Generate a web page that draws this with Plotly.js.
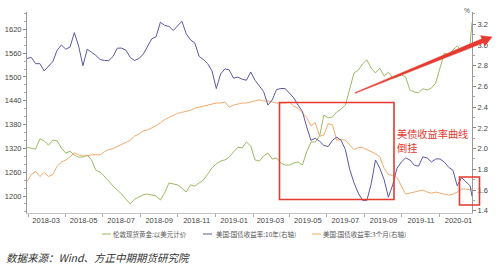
<!DOCTYPE html>
<html>
<head>
<meta charset="utf-8">
<script src="https://cdn.plot.ly/plotly-3.0.1.min.js"></script>
<style>
  html, body { margin: 0; padding: 0; background: #fff; }
  #chart { width: 500px; height: 266px; }
</style>
</head>
<body>
<div id="chart"></div>
<script>
// ---- data (weekly samples) ----
const dates = [
  '2018-01-29','2018-02-05','2018-02-12','2018-02-19','2018-02-26','2018-03-05','2018-03-12','2018-03-19','2018-03-26','2018-04-02',
  '2018-04-09','2018-04-16','2018-04-23','2018-04-30','2018-05-07','2018-05-14','2018-05-21','2018-05-28','2018-06-04','2018-06-11',
  '2018-06-18','2018-06-25','2018-07-02','2018-07-09','2018-07-16','2018-07-23','2018-07-30','2018-08-06','2018-08-13','2018-08-20',
  '2018-08-27','2018-09-03','2018-09-10','2018-09-17','2018-09-24','2018-10-01','2018-10-08','2018-10-15','2018-10-22','2018-10-29',
  '2018-11-05','2018-11-12','2018-11-19','2018-11-26','2018-12-03','2018-12-10','2018-12-17','2018-12-24','2018-12-31','2019-01-07',
  '2019-01-14','2019-01-21','2019-01-28','2019-02-04','2019-02-11','2019-02-18','2019-02-25','2019-03-04','2019-03-11','2019-03-18',
  '2019-03-25','2019-04-01','2019-04-08','2019-04-15','2019-04-22','2019-04-29','2019-05-06','2019-05-13','2019-05-20','2019-05-27',
  '2019-06-03','2019-06-10','2019-06-17','2019-06-24','2019-07-01','2019-07-08','2019-07-15','2019-07-22','2019-07-29','2019-08-05',
  '2019-08-12','2019-08-19','2019-08-26','2019-09-02','2019-09-09','2019-09-16','2019-09-23','2019-09-30','2019-10-07','2019-10-14',
  '2019-10-21','2019-10-28','2019-11-04','2019-11-11','2019-11-18','2019-11-25','2019-12-02','2019-12-09','2019-12-16','2019-12-23',
  '2019-12-30','2020-01-06','2020-01-13','2020-01-20','2020-01-23'
];

// 伦敦现货黄金:以美元计价 (left axis)
const gold = [
  1323,1321,1318,1344,1339,1328,1341,1339,1321,1308,
  1313,1303,1298,1298,1303,1291,1265,1260,1250,1238,
  1225,1215,1205,1192,1180,1192,1197,1203,1205,1203,
  1200,1190,1208,1233,1230,1228,1220,1210,1228,1225,
  1233,1240,1255,1271,1281,1288,1291,1298,1311,1323,
  1321,1336,1326,1291,1288,1301,1308,1293,1296,1283,
  1278,1278,1283,1286,1278,1311,1336,1336,1351,1404,
  1397,1399,1412,1419,1429,1467,1510,1517,1533,1543,
  1522,1510,1522,1502,1512,1497,1500,1505,1500,1467,
  1462,1460,1470,1467,1472,1485,1522,1560,1555,1568,
  1578,1565,1570,1585,1638
];

// 美国:国债收益率:10年 (right axis, %)
const ust10y = [
  2.87,2.88,2.82,2.82,2.75,2.79,2.84,2.95,3.00,2.96,
  2.98,3.12,2.99,2.80,2.96,2.93,2.90,2.86,2.85,2.85,
  2.89,2.97,2.97,2.95,2.88,2.85,2.87,2.91,2.99,3.06,
  3.08,3.22,3.19,3.18,3.14,3.19,3.23,3.11,3.05,3.02,
  2.89,2.86,2.82,2.75,2.58,2.72,2.77,2.76,2.68,2.69,
  2.67,2.66,2.74,2.66,2.61,2.55,2.42,2.47,2.57,2.58,
  2.58,2.53,2.49,2.42,2.36,2.21,2.08,2.10,2.07,2.03,
  2.02,2.08,2.11,2.08,1.99,1.80,1.67,1.57,1.50,1.50,
  1.66,1.89,1.81,1.70,1.53,1.65,1.81,1.87,1.91,1.89,
  1.84,1.83,1.92,1.91,1.87,1.90,1.90,1.87,1.82,1.79,
  1.64,1.72,1.68,1.64,1.54
];

// 美国:国债收益率:3个月 (right axis, %)
const ust3m = [
  1.68,1.75,1.78,1.73,1.77,1.73,1.75,1.83,1.87,1.89,
  1.92,1.96,1.94,1.93,1.93,1.94,1.94,1.94,1.97,1.99,
  2.00,2.02,2.04,2.06,2.08,2.12,2.14,2.17,2.18,2.20,
  2.22,2.25,2.28,2.30,2.32,2.34,2.35,2.36,2.37,2.39,
  2.40,2.41,2.42,2.43,2.44,2.44,2.45,2.40,2.42,2.43,
  2.44,2.44,2.45,2.46,2.47,2.46,2.46,2.45,2.44,2.44,
  2.44,2.45,2.41,2.39,2.35,2.30,2.22,2.25,2.12,2.13,
  2.24,2.23,2.08,2.09,2.08,2.03,1.99,2.01,2.01,1.99,
  1.97,1.95,1.92,1.81,1.75,1.74,1.72,1.64,1.56,1.57,
  1.58,1.59,1.60,1.58,1.57,1.58,1.57,1.56,1.55,1.56,
  1.58,1.61,1.61,1.60,1.61
];

const seriesNames = ['伦敦现货黄金:以美元计价', '美国:国债收益率:10年(右轴)', '美国:国债收益率:3个月(右轴)'];
const leftTicks = [1200, 1260, 1320, 1380, 1440, 1500, 1560, 1620];
const rightTicks = [1.4, 1.6, 1.8, 2.0, 2.2, 2.4, 2.6, 2.8, 3.0, 3.2];
const noteLines = ['美债收益率曲线', '倒挂'];
const sourceText = '数据来源：Wind、方正中期期货研究院';

// ---- styles ----
const colors = ['#9dbb61', '#5d57a3', '#f3aa6c'];
const red = '#e6392f';
const tickFont = { family: 'Liberation Sans, Arial, sans-serif', size: 7.5, color: '#444' };
const cjk = 'Noto Sans CJK SC, sans-serif';

const traces = [
  { x: dates, y: gold, yaxis: 'y', name: seriesNames[0], type: 'scatter', mode: 'lines',
    line: { color: colors[0], width: 1 } },
  { x: dates, y: ust3m, yaxis: 'y2', name: seriesNames[2], type: 'scatter', mode: 'lines',
    line: { color: colors[2], width: 1 } },
  { x: dates, y: ust10y, yaxis: 'y2', name: seriesNames[1], type: 'scatter', mode: 'lines',
    line: { color: colors[1], width: 1 } }
];

// plot area in px: x 27..472, y 12..213
const PX = v => (v - 27) / 445;
const PY = v => (213 - v) / 201;

// legend built by hand (compact like the original)
const legendItems = [
  { sx: 102, tx: 112, c: colors[0], t: seriesNames[0] },
  { sx: 203, tx: 215, c: colors[1], t: seriesNames[1] },
  { sx: 312, tx: 322, c: colors[2], t: seriesNames[2] }
];
const legendY = 234;

const shapes = [];
const annotations = [];
legendItems.forEach(it => {
  shapes.push({ type: 'line', xref: 'paper', yref: 'paper',
    x0: PX(it.sx), x1: PX(it.sx + 9), y0: PY(legendY), y1: PY(legendY),
    line: { color: it.c, width: 1 } });
  annotations.push({ xref: 'paper', yref: 'paper', x: PX(it.tx), y: PY(legendY),
    xanchor: 'left', yanchor: 'middle', showarrow: false, text: it.t,
    font: { family: cjk, size: 6.5, color: '#555' }, borderpad: 0 });
});

// red boxes
shapes.push({ type: 'rect', xref: 'paper', yref: 'paper',
  x0: PX(279.5), x1: PX(394), y0: PY(199.5), y1: PY(102.5),
  line: { color: red, width: 1.6 }, fillcolor: 'rgba(0,0,0,0)' });
shapes.push({ type: 'rect', xref: 'paper', yref: 'paper',
  x0: PX(459.5), x1: PX(479.5), y0: PY(205), y1: PY(177),
  line: { color: red, width: 1.6 }, fillcolor: 'rgba(0,0,0,0)' });

// tapered red arrow
const arrowPts = [[354.85, 92.63], [481.9, 38.8], [480.6, 35.7], [492, 37], [484.8, 45.9], [483.5, 42.8], [355.15, 93.37]];
shapes.push({ type: 'path', xref: 'paper', yref: 'paper',
  path: 'M' + arrowPts.map(p => PX(p[0]).toFixed(5) + ',' + PY(p[1]).toFixed(5)).join(' L') + ' Z',
  fillcolor: red, line: { color: red, width: 0.5 } });

// red note, one annotation per line
[[133.5, noteLines[0]], [147.5, noteLines[1]]].forEach(([py, t]) => {
  annotations.push({ xref: 'paper', yref: 'paper', x: PX(395.5), y: PY(py),
    xanchor: 'left', yanchor: 'middle', align: 'left', showarrow: false, borderpad: 0,
    text: t, font: { family: cjk, size: 10.2, color: red } });
});

annotations.push({ xref: 'paper', yref: 'paper', x: PX(467), y: PY(10.5),
  xanchor: 'center', yanchor: 'middle', showarrow: false, text: '%', borderpad: 0,
  font: { family: 'Liberation Sans, Arial, sans-serif', size: 6.5, color: '#555' } });

annotations.push({ xref: 'paper', yref: 'paper', x: PX(4), y: PY(257),
  xanchor: 'left', yanchor: 'middle', showarrow: false, text: '<i>' + sourceText + '</i>',
  font: { family: cjk, size: 10.5, color: '#333' } });

const layout = {
  width: 500, height: 266,
  margin: { l: 27, r: 28, t: 12, b: 53, pad: 0 },
  paper_bgcolor: '#ffffff', plot_bgcolor: '#ffffff',
  showlegend: false,
  xaxis: {
    type: 'date', range: ['2018-01-29', '2020-01-23'],
    tickformat: '%Y-%m', dtick: 'M2', tick0: '2018-03-01',
    ticks: '', showgrid: false, zeroline: false,
    showline: true, linecolor: '#c4c4c4', linewidth: 1,
    tickfont: tickFont,
    minor: { ticks: 'outside', ticklen: 3, tickcolor: '#aaa', dtick: 'M2', tick0: '2018-04-01', showgrid: false }
  },
  yaxis: {
    range: [1157.2, 1663.6], tickmode: 'array', tickvals: leftTicks,
    ticks: 'outside', ticklen: 3, tickcolor: '#888', tickwidth: 1,
    showline: true, linecolor: '#999', linewidth: 1,
    showgrid: false, zeroline: false, tickfont: tickFont,
    minor: { ticks: 'outside', ticklen: 2, tickcolor: '#aaa', dtick: 20, tick0: 1200, showgrid: false }
  },
  yaxis2: {
    overlaying: 'y', side: 'right', anchor: 'x',
    range: [1.378, 3.319], tickmode: 'array', tickvals: rightTicks, tickformat: '.1f',
    ticks: 'outside', ticklen: 3, tickcolor: '#888', tickwidth: 1,
    showline: true, linecolor: '#999', linewidth: 1,
    showgrid: false, zeroline: false, tickfont: tickFont,
    minor: { ticks: 'outside', ticklen: 2, tickcolor: '#aaa', dtick: 0.1, tick0: 1.4, showgrid: false }
  },
  shapes: shapes,
  annotations: annotations
};

Plotly.newPlot('chart', traces, layout, { staticPlot: true, displayModeBar: false });
</script>
</body>
</html>
